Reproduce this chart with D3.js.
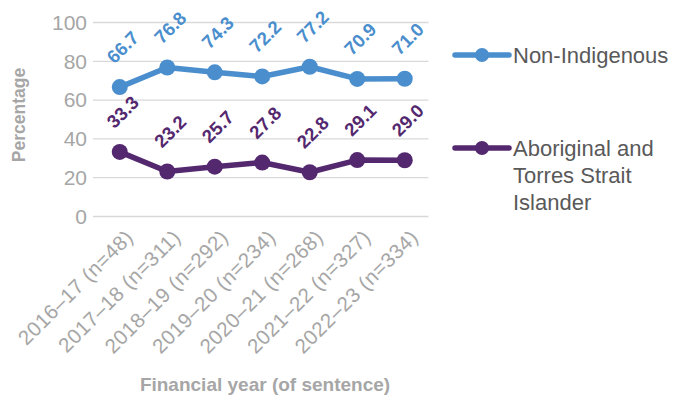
<!DOCTYPE html>
<html>
<head>
<meta charset="utf-8">
<script src="https://cdn.jsdelivr.net/npm/d3@7"></script>
<style>
  html, body { margin: 0; padding: 0; background: #fff; }
  svg { display: block; font-family: "Liberation Sans", Arial, sans-serif; }
</style>
</head>
<body>
<svg id="chart" width="675" height="395"></svg>
<script>
// Financial years with sample sizes
const categories = [
  "2016–17 (n=48)", "2017–18 (n=311)", "2018–19 (n=292)", "2019–20 (n=234)",
  "2020–21 (n=268)", "2021–22 (n=327)", "2022–23 (n=334)"
];
const nonIndigenous = [66.7, 76.8, 74.3, 72.2, 77.2, 70.9, 71.0];
const aboriginal = [33.3, 23.2, 25.7, 27.8, 22.8, 29.1, 29.0];
const yTicks = [0, 20, 40, 60, 80, 100];

const series = [
  { name: ["Non-Indigenous"], values: nonIndigenous, color: "#4a8ecd" },
  { name: ["Aboriginal and", "Torres Strait", "Islander"], values: aboriginal, color: "#54286f" }
];

const svg = d3.select("#chart");
const plot = { left: 96, right: 428.5, top: 22.5, bottom: 216.5 };

const x = d3.scalePoint().domain(categories).range([plot.left, plot.right]).padding(0.5);
const y = d3.scaleLinear().domain([0, 100]).range([plot.bottom, plot.top]);

// Gridlines
svg.append("g")
  .selectAll("line").data(yTicks).join("line")
  .attr("x1", plot.left - 3).attr("x2", plot.right)
  .attr("y1", d => y(d)).attr("y2", d => y(d))
  .attr("stroke", "#d9d9d9").attr("stroke-width", 1.3);

// Y axis labels
const yAxis = svg.append("g")
  .attr("transform", `translate(${plot.left - 9},0)`)
  .call(d3.axisLeft(y).tickValues(yTicks).tickSize(0).tickPadding(0));
yAxis.select(".domain").remove();
yAxis.selectAll("text")
  .attr("font-size", 21).attr("fill", "#a6a6a6")
  .attr("font-family", "Liberation Sans, Arial, sans-serif");

// X axis labels (rotated)
const xAxis = svg.append("g")
  .attr("transform", `translate(0,${plot.bottom + 10})`)
  .call(d3.axisBottom(x).tickSize(0).tickPadding(0));
xAxis.select(".domain").remove();
xAxis.selectAll("text")
  .attr("font-size", 20.5).attr("fill", "#a6a6a6")
  .attr("letter-spacing", 0.5)
  .attr("font-family", "Liberation Sans, Arial, sans-serif")
  .attr("text-anchor", "end")
  .attr("dy", "0.35em")
  .attr("transform", "translate(9,7) rotate(-45)");

// Axis titles
svg.append("text")
  .attr("transform", `translate(25,115) rotate(-90)`)
  .attr("text-anchor", "middle")
  .attr("font-size", 17.5).attr("font-weight", "bold").attr("fill", "#a6a6a6")
  .text("Percentage");

svg.append("text")
  .attr("x", 265).attr("y", 391)
  .attr("text-anchor", "middle")
  .attr("font-size", 19).attr("font-weight", "bold").attr("fill", "#a6a6a6")
  .text("Financial year (of sentence)");

const line = d3.line().x((d, i) => x(categories[i])).y(d => y(d));

series.forEach(s => {
  const g = svg.append("g");
  g.append("path")
    .attr("d", line(s.values))
    .attr("fill", "none").attr("stroke", s.color)
    .attr("stroke-width", 5.5).attr("stroke-linejoin", "round").attr("stroke-linecap", "round");
  g.selectAll("circle").data(s.values).join("circle")
    .attr("cx", (d, i) => x(categories[i])).attr("cy", d => y(d))
    .attr("r", 8).attr("fill", s.color);
  g.selectAll("text").data(s.values).join("text")
    .attr("transform", (d, i) => `translate(${x(categories[i]) + 3},${y(d) - 40}) rotate(-45)`)
    .attr("text-anchor", "middle").attr("dy", "0.35em")
    .attr("font-size", 18.5).attr("font-weight", "bold").attr("fill", s.color)
    .text(d => d.toFixed(1));
});

// Legend
const legendY = [55, 148];
series.forEach((s, i) => {
  const g = svg.append("g").attr("transform", `translate(0,${legendY[i]})`);
  g.append("line").attr("x1", 455).attr("x2", 509).attr("y1", 0).attr("y2", 0)
    .attr("stroke", s.color).attr("stroke-width", 5.5).attr("stroke-linecap", "round");
  g.append("circle").attr("cx", 482).attr("cy", 0).attr("r", 7).attr("fill", s.color);
  const t = g.append("text").attr("x", 513).attr("y", 0)
    .attr("font-size", 22).attr("fill", "#595959");
  s.name.forEach((ln, j) => {
    t.append("tspan").attr("x", 513).attr("dy", j === 0 ? "0.35em" : 27).text(ln);
  });
});
</script>
</body>
</html>
